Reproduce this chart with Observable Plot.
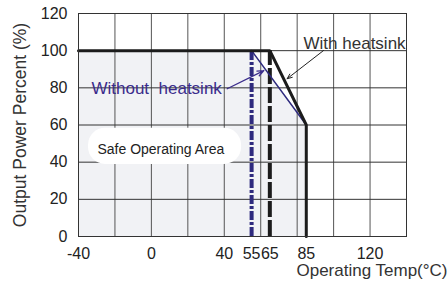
<!DOCTYPE html>
<html>
<head>
<meta charset="utf-8">
<script src="https://cdn.jsdelivr.net/npm/d3@7"></script>
<script src="https://cdn.jsdelivr.net/npm/@observablehq/plot@0.6"></script>
<style>
  html, body { margin: 0; padding: 0; background: #fff; }
  #chart svg { display: block; }
</style>
</head>
<body>
<div id="chart"></div>
<script>
// Axis ticks
const xTicks = [-40, 0, 40, 55, 65, 85, 120];
const yTicks = [0, 20, 40, 60, 80, 100, 120];
const xGrid = [-40, -20, 0, 20, 40, 60, 80, 100, 120, 140];

// Derating curves
const withTemp = [-40, 65, 85, 85];
const withPower = [100, 100, 60, 0];
const withoutTemp = [55, 85, 85];
const withoutPower = [100, 60, 0];

// Safe operating area (without heatsink boundary)
const safeTemp = [-40, 55, 85];
const safePower = [100, 100, 60];

// Vertical limit lines
const limitTemps = [55, 65];

// Annotation anchors (data space)
const boxX = [-34.5, 49.5];
const boxY = [38.8, 58.3];
const arrowWithout = [41.6, 79.5, 61.7, 89.3];
const arrowWith = [94.5, 100.1, 74.5, 84.9];

const withData = withTemp.map((t, i) => ({t, p: withPower[i]}));
const withoutData = withoutTemp.map((t, i) => ({t, p: withoutPower[i]}));
const safeData = safeTemp.map((t, i) => ({t, p: safePower[i]}));

const font = "Liberation Sans, Arial, sans-serif";
const blue = "#2e2a7e";

const chart = Plot.plot({
  width: 448,
  height: 287,
  marginLeft: 78,
  marginRight: 42,
  marginTop: 13,
  marginBottom: 51,
  style: {fontFamily: font, background: "#fff", overflow: "visible"},
  x: {domain: [-40, 140], ticks: xTicks, tickSize: 0, tickPadding: 12, label: null},
  y: {domain: [0, 120], ticks: yTicks, tickSize: 0, tickPadding: 11, label: null},
  marks: [
    Plot.areaY(safeData, {x: "t", y: "p", fill: "#f1f2f5"}),
    Plot.ruleX(xGrid, {stroke: "#555", strokeWidth: 1}),
    Plot.ruleY(yTicks, {stroke: "#333", strokeWidth: 1}),
    Plot.rect([{x1: boxX[0], x2: boxX[1], y1: boxY[0], y2: boxY[1]}],
      {x1: "x1", x2: "x2", y1: "y1", y2: "y2", fill: "#fff", rx: 17}),
    Plot.text(["Safe Operating Area"], {x: boxX[0] + 4.9, y: (boxY[0] + boxY[1]) / 2 - 1.5, text: d => d,
      textAnchor: "start", fontSize: 14, fill: "#222"}),
    Plot.ruleX([limitTemps[0]], {y1: 0, y2: 100, stroke: blue, strokeWidth: 4, strokeDasharray: "9,2,3,2"}),
    Plot.ruleX([limitTemps[1]], {y1: 0, y2: 100, stroke: "#1c1c1c", strokeWidth: 4, strokeDasharray: "16,3"}),
    Plot.line(withoutData, {x: "t", y: "p", stroke: blue, strokeWidth: 1.5}),
    Plot.line(withData, {x: "t", y: "p", stroke: "#1c1c1c", strokeWidth: 3, strokeLinejoin: "miter"}),
    Plot.frame({stroke: "#333", strokeWidth: 1}),
    Plot.arrow([arrowWithout], {x1: d => d[0], y1: d => d[1], x2: d => d[2], y2: d => d[3],
      stroke: "#3a2c8c", strokeWidth: 1.3, headLength: 8, headAngle: 45}),
    Plot.arrow([arrowWith], {x1: d => d[0], y1: d => d[1], x2: d => d[2], y2: d => d[3],
      stroke: "#222", strokeWidth: 1, headLength: 8, headAngle: 45}),
    Plot.text(["Without  heatsink"], {x: -32.9, y: 79.7, text: d => d, textAnchor: "start",
      fontSize: 17, fill: "#3a2c8c"}),
    Plot.text(["With heatsink"], {x: 139.5, y: 104, text: d => d, textAnchor: "end",
      fontSize: 17, fill: "#333"}),
    Plot.text(["Output Power Percent (%)"], {frameAnchor: "left", dx: -58, rotate: -90,
      textAnchor: "middle", text: d => d, fontSize: 17.5, fill: "#333"}),
    Plot.text(["Operating Temp(°C)"], {frameAnchor: "bottom-right", dx: 41, dy: 39,
      text: d => d, textAnchor: "end", fontSize: 17, fill: "#333"}),
    Plot.axisX({ticks: xTicks, tickSize: 0, tickPadding: 11, fontSize: 16, fill: "#222", label: null,
      tickFormat: d => String(d)}),
    Plot.axisY({ticks: yTicks, tickSize: 0, tickPadding: 11, fontSize: 16, fill: "#222", label: null,
      tickFormat: d => String(d)})
  ]
});
document.getElementById("chart").appendChild(chart);
</script>
</body>
</html>
